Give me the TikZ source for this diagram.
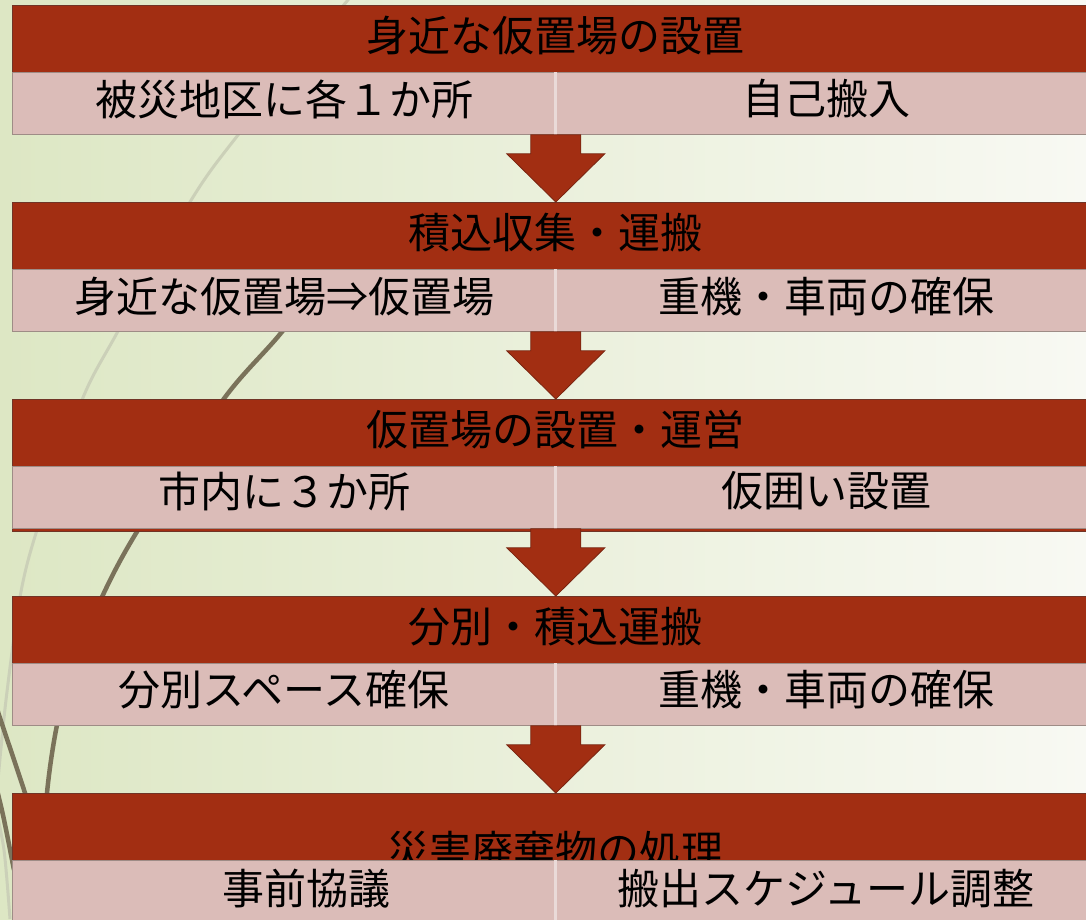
\documentclass[tikz,border=0pt]{standalone}
\usepackage{fontspec}
\newfontfamily\jp{Noto Sans CJK JP}
\usetikzlibrary{calc}
\definecolor{barred}{RGB}{162,46,18}
\definecolor{barpink}{RGB}{219,188,184}
\definecolor{bgl}{RGB}{221,231,196}
\definecolor{bgr}{RGB}{248,249,243}
\definecolor{wispl}{RGB}{203,208,184}
\definecolor{wispd}{RGB}{122,114,90}
\definecolor{baredge}{RGB}{112,52,38}
\definecolor{pinkedge}{RGB}{158,140,134}
\definecolor{arrowedge}{RGB}{120,36,16}
\definecolor{divider}{RGB}{234,218,216}
\begin{document}
\begin{tikzpicture}[x=1pt,y=-1pt,
  redbar/.style={rectangle, anchor=north west, inner sep=0pt, fill=barred, draw=baredge, line width=1pt, minimum width=1086pt, minimum height=129pt},
  pinkbox/.style={rectangle, anchor=north west, inner sep=0pt, fill=barpink, draw=pinkedge, line width=0.8pt, minimum width=543pt, minimum height=62pt},
  label/.style={inner sep=0pt, font=\jp\fontsize{42pt}{50pt}\selectfont, text=black},
  blockarrow/.style={fill=barred, draw=arrowedge, line width=0.8pt, line join=miter},
  wisplight/.style={wispl, line width=3pt},
  wispdark/.style={wispd, line width=4.5pt}]
\useasboundingbox (0,0) rectangle (1086,919);
\clip (0,0) rectangle (1086,919);
% background
\fill[left color=bgl, right color=bgr] (0,0) rectangle (1086,919);
% decorative wisps
\draw[wisplight] plot[smooth] coordinates {(352,-5) (238,135) (190,202) (117,333) (82,400) (37,530) (20,597) (6,700) (-2,780)};
\draw[wispdark] plot[smooth] coordinates {(350,245) (281,333) (223,400) (138,530) (102,597) (72,672) (57,725) (47,793) (40,900)};
\draw[wispdark] plot[smooth] coordinates {(-12,680) (0,718) (25,793) (45,860)};
\draw[wispdark] plot[smooth] coordinates {(-8,770) (3,815) (14,870)};
\draw[wisplight] plot[smooth] coordinates {(-6,800) (4,850) (10,919)};

% section bars
\foreach \k/\T in {1/5, 2/202, 3/399, 4/596, 5/793} {
  \node[redbar] (r\k) at (12,\T) {};
}
\node[redbar, minimum height=132pt] (r3b) at (12,399) {};

% header texts
\node[label] (h1) at (555,36) {身近な仮置場の設置};
\node[label] (h2) at (555,233) {積込収集・運搬};
\node[label] (h3) at (555,430) {仮置場の設置・運営};
\node[label] (h4) at (555,627) {分別・積込運搬};
\node[label] (h5) at (555,851) {災害廃棄物の処理};

% pink boxes
\foreach \k/\T in {1/5, 2/202, 3/399, 4/596, 5/793} {
  \node[pinkbox] (pl\k) at (12,\T+67) {};
  \node[pinkbox] (pr\k) at (555,\T+67) {};
  \draw[divider, line width=3pt] (pl\k.north east) -- (pl\k.south east);
}

% pink texts
\node[label] (a1) at (284,99) {被災地区に各１か所};
\node[label] (b1) at (826,99) {自己搬入};
\node[label] (a2) at (284,297) {身近な仮置場⇒仮置場};
\node[label] (b2) at (826,297) {重機・車両の確保};
\node[label] (a3) at (284,491) {市内に３か所};
\node[label] (b3) at (826,491) {仮囲い設置};
\node[label] (a4) at (284,690) {分別スペース確保};
\node[label] (b4) at (826,690) {重機・車両の確保};
\node[label] (a5) at (306,889) {事前協議};
\node[label] (b5) at (826,889) {搬出スケジュール調整};

% block arrows
\foreach \k/\n in {1/2, 2/3, 3/4, 4/5} {
  \draw[blockarrow] ($(pl\k.south east)+(-25,0)$) -- ($(pl\k.south east)+(25,0)$)
    -- ($(pl\k.south east)+(25,19)$) -- ($(pl\k.south east)+(49,19)$)
    -- (pl\n.north east |- r\n.north) -- ($(pl\k.south east)+(-49,19)$)
    -- ($(pl\k.south east)+(-25,19)$) -- cycle;
}
\end{tikzpicture}
\end{document}
